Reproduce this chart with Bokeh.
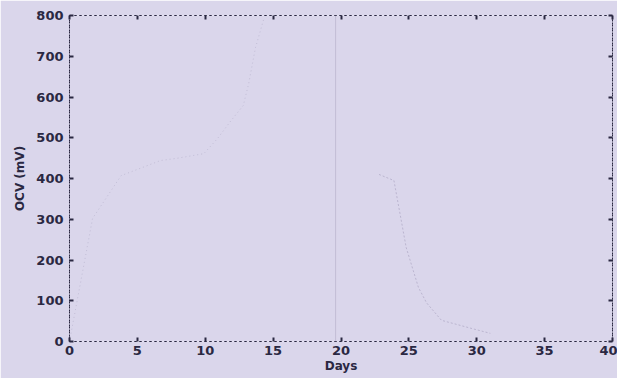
from bokeh.plotting import figure
from bokeh.models import LinearAxis, Span, Range1d, FixedTicker
from bokeh.embed import file_html
from bokeh.resources import INLINE

# faint (faded) traces visible in the scanned chart
rise_days = [0.0, 1.7, 3.8, 6.7, 8.0, 9.9, 10.9, 11.9, 12.8, 13.2, 13.7, 14.3]
rise_ocv = [0, 302, 407, 444, 450, 461, 498, 542, 579, 633, 721, 790]
fall_days = [22.8, 23.9, 24.8, 25.7, 26.3, 27.4, 29.4, 31.0]
fall_ocv = [410, 395, 231, 133, 95, 52, 34, 20]
fold_day = 19.6

x_ticks = [0, 5, 10, 15, 20, 25, 30, 35, 40]
y_ticks = [0, 100, 200, 300, 400, 500, 600, 700, 800]

BG = "#dad6eb"
INK = "#2a2842"
FAINT = "#b3adc8"

p = figure(width=617, height=378, output_backend="svg", toolbar_location=None,
           x_range=Range1d(0, 40), y_range=Range1d(0, 800),
           min_border_left=69, min_border_right=5, min_border_top=15, min_border_bottom=37,
           background_fill_color=BG, border_fill_color=BG)
p.outline_line_color = INK
p.outline_line_dash = "2 3"
p.outline_line_width = 1
p.xgrid.visible = False
p.ygrid.visible = False

p.line(rise_days, rise_ocv, line_color=FAINT, line_width=1, line_dash="1 3", line_alpha=0.6)
p.line(fall_days, fall_ocv, line_color=FAINT, line_width=1, line_dash="2 2", line_alpha=0.8)
p.add_layout(Span(location=fold_day, dimension="height", line_color=FAINT, line_alpha=0.6, line_width=1))

FONT = "DejaVu Sans"

def style(ax, labels=True):
    ax.axis_line_color = INK
    ax.axis_line_dash = "2 3"
    ax.major_tick_in = 4
    ax.major_tick_out = 0
    ax.major_tick_line_color = INK
    ax.major_tick_line_width = 2
    ax.minor_tick_line_color = None
    if labels:
        ax.major_label_text_font = FONT
        ax.major_label_text_font_size = "13px"
        ax.major_label_text_font_style = "bold"
        ax.major_label_text_color = INK
        ax.axis_label_text_font = FONT
        ax.axis_label_text_font_size = "12px"
        ax.axis_label_text_font_style = "bold"
        ax.axis_label_text_color = INK
    else:
        ax.major_label_overrides = {t: "" for t in (x_ticks + y_ticks)}

xa = p.xaxis[0]
xa.ticker = FixedTicker(ticks=x_ticks)
xa.axis_label = "Days"
xa.major_label_standoff = 4
xa.axis_label_standoff = 1
style(xa)

ya = p.yaxis[0]
ya.ticker = FixedTicker(ticks=y_ticks)
ya.axis_label = "OCV (mV)"
ya.major_label_standoff = 6
ya.axis_label_standoff = 6
style(ya)

top = LinearAxis(ticker=FixedTicker(ticks=x_ticks))
style(top, labels=False)
p.add_layout(top, "above")
right = LinearAxis(ticker=FixedTicker(ticks=y_ticks))
style(right, labels=False)
p.add_layout(right, "right")

open("out.html", "w").write(file_html(p, INLINE))
